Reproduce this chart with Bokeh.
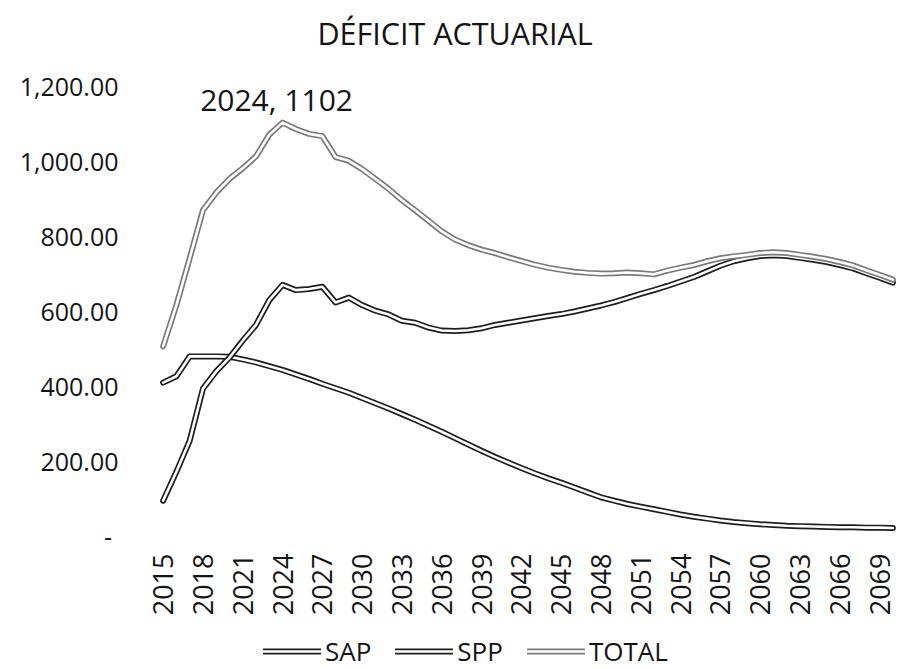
from bokeh.plotting import figure
from bokeh.layouts import column
from bokeh.models import (Range1d, FixedTicker, CustomJSTickFormatter, Label,
                          Legend, LegendItem)
from bokeh.embed import file_html
from bokeh.resources import INLINE
from math import pi

# ---------------- data ----------------
years = list(range(2015, 2071))
sap = [408, 425, 478, 478, 478, 477, 470, 462, 452, 442,
       430, 418, 405, 393, 381, 367, 353, 339, 324, 309,
       293, 277, 260, 243, 226, 210, 195, 180, 166, 153,
       141, 128, 115, 102, 93, 84, 77, 70, 63, 56,
       50, 45, 40, 36, 33, 30, 28, 26, 25, 24,
       23, 22, 22, 21, 21, 20]
spp = [93, 170, 253, 392, 438, 475, 520, 562, 628, 669,
       655, 658, 664, 622, 635, 615, 600, 590, 573, 568,
       555, 547, 546, 548, 553, 562, 568, 574, 580, 586,
       591, 598, 606, 614, 623, 634, 645, 655, 666, 678,
       690, 705, 720, 732, 740, 746, 748, 746, 741, 736,
       730, 722, 713, 700, 688, 675]
total = [505, 615, 740, 868, 915, 952, 980, 1012, 1070, 1102,
         1085, 1072, 1066, 1010, 1000, 978, 952, 925, 895, 868,
         840, 812, 790, 775, 763, 754, 743, 733, 723, 715,
         709, 704, 701, 699, 700, 702, 700, 697, 707, 715,
         722, 732, 740, 745, 749, 754, 756, 754, 749, 744,
         738, 730, 721, 708, 696, 683]
series_names = ["SAP", "SPP", "TOTAL"]
x_tick_years = list(range(2015, 2070, 3))
y_ticks = [0, 200, 400, 600, 800, 1000, 1200]
peak_year = 2024
peak_value = 1102
chart_title = "DÉFICIT ACTUARIAL"

FONT = "Open Sans"
TXT = "#141414"

# main chart: the frame reaches the top of the canvas so the title (a Label)
# sits inside it; the y scale is 0.375 px per unit with 0 at 535 px.
p = figure(width=901, height=625, output_backend="svg", toolbar_location=None,
           x_range=Range1d(2014.5, 2070.5), y_range=Range1d(0, 1428),
           min_border_left=156, min_border_right=2,
           min_border_top=0, min_border_bottom=90,
           background_fill_color="white", border_fill_color="white")
p.outline_line_color = None
p.grid.visible = False

# axes
p.xaxis.ticker = FixedTicker(ticks=x_tick_years)
p.xaxis.major_label_orientation = pi / 2
p.xaxis.major_label_standoff = 18
p.xaxis.major_label_text_font = FONT
p.xaxis.major_label_text_font_size = "27px"
p.xaxis.major_label_text_color = TXT

p.yaxis.ticker = FixedTicker(ticks=y_ticks)
p.yaxis.formatter = CustomJSTickFormatter(code="""
    if (tick == 0) { return '-\u00a0'; }
    return tick.toLocaleString('en-US', {minimumFractionDigits: 2, maximumFractionDigits: 2});
""")
p.yaxis.major_label_standoff = 38
p.yaxis.major_label_text_font = FONT
p.yaxis.major_label_text_font_size = "25px"
p.yaxis.major_label_text_color = TXT

for ax in (p.xaxis, p.yaxis):
    ax.axis_line_color = None
    ax.major_tick_line_color = None
    ax.minor_tick_line_color = None
    ax.major_tick_out = 0
    ax.major_tick_in = 0

# lines drawn as outlined (hollow) strokes, like the scanned original
outline_colors = ["#1e1e1e", "#1e1e1e", "#7a7a7a"]
for vals, oc in zip([sap, spp, total], outline_colors):
    p.line(years, vals, line_color=oc, line_width=6, line_join="round", line_cap="round")
    p.line(years, vals, line_color="white", line_width=2.6, line_join="round", line_cap="round")

# data label at the peak of TOTAL
p.add_layout(Label(x=peak_year, y=peak_value, x_offset=-6, y_offset=23,
                   text=f"{peak_year}, {peak_value}", text_align="center",
                   text_baseline="middle", text_font=FONT,
                   text_font_size="30px", text_color=TXT))

# title
p.add_layout(Label(x=2037.0, y=1341, text=chart_title, text_align="center",
                   text_baseline="middle", text_font=FONT,
                   text_font_size="30.5px", text_color=TXT))

# legend strip below the chart (same series, drawn out of its view);
# its frame is aligned with the main chart's frame by the column layout
q = figure(width=901, height=44, output_backend="svg", toolbar_location=None,
           x_range=Range1d(0, 901), y_range=Range1d(0, 44),
           x_axis_type=None, y_axis_type=None,
           min_border_left=0, min_border_right=0, min_border_top=0, min_border_bottom=0,
           background_fill_color="white", border_fill_color="white")
q.outline_line_color = None
q.grid.visible = False
items = []
for name, vals, oc in zip(series_names, [sap, spp, total], outline_colors):
    r1 = q.line(years, vals, line_color=oc, line_width=6, line_cap="round")
    r2 = q.line(years, vals, line_color="white", line_width=2.6, line_cap="round")
    items.append(LegendItem(label=name, renderers=[r1, r2]))
legend = Legend(items=items, orientation="horizontal",
                location=(107, 0), padding=0, margin=0, spacing=24,
                glyph_width=58, glyph_height=20, label_standoff=4,
                label_text_font=FONT, label_text_font_size="26px",
                label_text_color=TXT, border_line_color=None,
                background_fill_alpha=0)
q.add_layout(legend, "center")

layout = column(p, q, spacing=0)
open("out.html", "w").write(file_html(layout, INLINE))
